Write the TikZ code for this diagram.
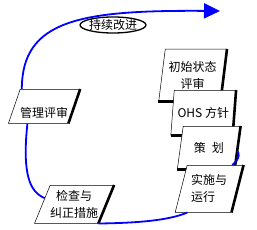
\documentclass[tikz,border=0pt]{standalone}
\usepackage{fontspec}
\newfontfamily\cjk{Noto Sans CJK SC}
\usetikzlibrary{shapes.geometric,arrows.meta,calc}

\tikzset{
	stage/.style={shape=trapezium, trapezium stretches body=true, draw, fill=white,
		line width=0.5pt, inner sep=0pt, anchor=top left corner, align=center,
		font=\cjk\fontsize{12}{17}\selectfont},
	rshade/.style={append after command={(\tikzlastnode.top right corner) edge[line width=2.6pt] (\tikzlastnode.bottom right corner)}},
	bshade/.style={append after command={(\tikzlastnode.bottom left corner) edge[line width=2.6pt] (\tikzlastnode.bottom right corner)}},
	flow/.style={draw=blue, line width=1.8pt},
}

\begin{document}
\begin{tikzpicture}[line cap=butt,line join=miter,x=1pt,y=-1pt]
	\useasboundingbox (0,0) rectangle (257,230);
	% left loop
	\node[stage, rshade, trapezium left angle=62, trapezium right angle=118, minimum width=62pt, minimum height=34pt, text height=22pt, text depth=0pt] (review) at (20,89) {管理评审};
	\node[stage, rshade, trapezium left angle=61, trapezium right angle=119, minimum width=72pt, minimum height=38pt] (check) at (50,185) {检查与\\纠正措施};
	% stacked stages
	\node[stage, rshade, bshade, trapezium left angle=77, trapezium right angle=103, minimum width=68pt, minimum height=52pt] (init) at (165,49) {初始状态\\评审};
	\node[stage, rshade, bshade, trapezium left angle=73, trapezium right angle=107, minimum width=65pt, minimum height=45pt] (policy) at (174,90) {OHS 方针};
	\node[stage, rshade, bshade, trapezium left angle=62, trapezium right angle=118, minimum width=63pt, minimum height=43pt] (plan) at (183,126) {策\enspace 划};
	\node[stage, rshade, trapezium left angle=67, trapezium right angle=113, minimum width=68pt, minimum height=47pt, align=left] (impl) at (187,165) {实施与\\运行};
	% improvement arrow
	\coordinate (aim) at (220,11);
	\draw[flow, -{Triangle[length=16pt,width=15pt]}] ($(review.top left corner)!0.03!(review.top right corner)$) .. controls (22,20) and (80,10) .. (aim);
	\draw[flow] ($(review.bottom left corner)!0.32!(review.bottom right corner)$) .. controls (22,175) and (30,192) .. ($(check.top left corner)!0.34!(check.bottom left corner)$);
	\draw[flow] (check.bottom right corner) .. controls (140,223) and (170,220) .. ($(impl.bottom left corner)!0.22!(impl.bottom right corner)$);
	\draw[flow] ($(plan.top right corner)!0.58!(plan.bottom right corner)$) .. controls (239,152) and (241,158) .. ($(impl.top left corner)!0.8!(impl.top right corner)$);
	\node[font=\cjk\fontsize{12}{15}\selectfont, inner sep=0pt] (goal) at (113,25) {持续改进};
	\draw[line width=1.3pt] (goal.center) ellipse [x radius=33pt, y radius=8pt];
\end{tikzpicture}
\end{document}
